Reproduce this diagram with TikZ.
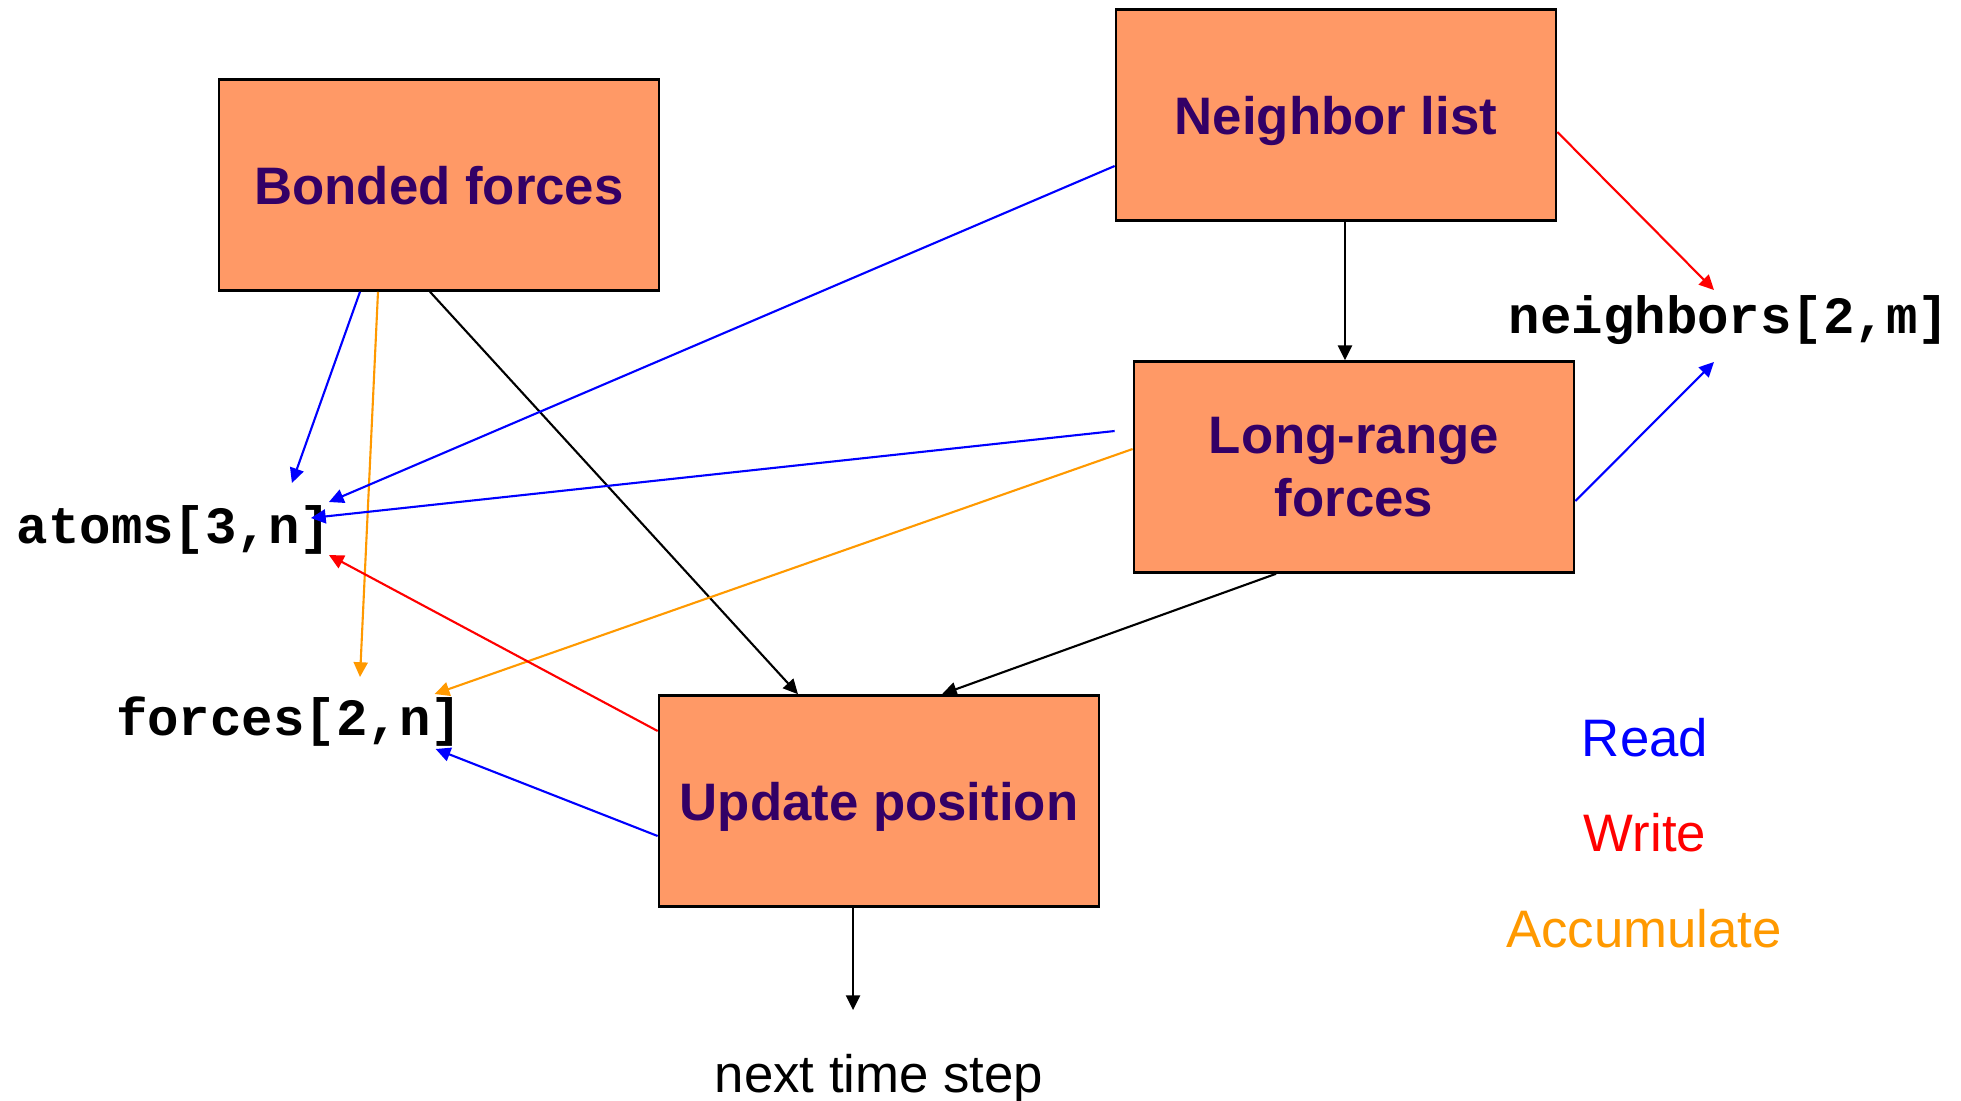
\documentclass[tikz,border=0pt]{standalone}
\usepackage{fontspec}
\setmainfont{Liberation Sans}
\newfontfamily\codefont{Liberation Mono}
\usetikzlibrary{arrows.meta}
\definecolor{boxfill}{HTML}{FF9966}
\definecolor{boxtext}{HTML}{330066}
\definecolor{accum}{HTML}{FF9900}

\begin{document}
\begin{tikzpicture}[x=0.01cm, y=-0.01cm,
  task/.style={rectangle, draw, fill=boxfill, line width=0.7pt, minimum width=4.4cm, minimum height=2.11cm,
    inner sep=0pt, text=boxtext, align=center, font=\fontsize{15}{18}\selectfont\bfseries},
  oneline/.style={task, text height=11pt, text depth=0pt},
  datum/.style={inner sep=0pt, font={\fontsize{14.9}{17}\codefont\bfseries}},
  legend/.style={inner sep=0pt, font=\fontsize{15}{18}\selectfont},
  link/.style={-{Triangle[length=4.2pt,width=4pt]}, line width=0.6pt},
  rd/.style={link, blue},
  wr/.style={link, red},
  acc/.style={link, accum}]
  \useasboundingbox (0,0) rectangle (1961,1100);

  % tasks
  \node[oneline] (bonded) at (439,185) {Bonded forces};
  \node[oneline] (nbr) at (1336,115) {Neighbor list};
  \node[task] (longr) at (1354,467) {Long-range\\forces};
  \node[oneline] (update) at (879,801) {Update position};

  % arrays
  \node[datum] (atoms) at (174,530) {atoms[3,n]};
  \node[datum] (forces) at (289,722) {forces[2,n]};
  \node[datum] (neighbors) at (1729,320) {neighbors[2,m]};
  \node[legend, anchor=base] (next) at (879,1092) {next time step};

  % legend
  \node[legend, text=blue] (read) at (1645,738) {Read};
  \node[legend, text=red] (write) at (1645,833) {Write};
  \node[legend, text=accum] (accumulate) at (1644,929) {Accumulate};

  % bonded forces
  \draw[rd] ([shift={(-79,0)}]bonded.south) -- ([shift={(-40,-47)}]atoms.east);
  \draw[acc] ([shift={(-61,0)}]bonded.south) -- ([shift={(71,-45)}]forces.center);
  \draw[link] ([shift={(-9,0)}]bonded.south) -- ([shift={(-81,0)}]update.north);

  % neighbor list
  \draw[rd] ([shift={(0,51)}]nbr.west) -- ([shift={(-3,-28)}]atoms.east);
  \draw[link] ([shift={(9,0)}]nbr.south) -- ([shift={(-9,0)}]longr.north);
  \draw[wr] ([shift={(0,17)}]nbr.east) -- ([shift={(-15,-30)}]neighbors.center);

  % long-range forces
  \draw[rd] ([shift={(-18,-36)}]longr.west) -- ([shift={(-21,-12)}]atoms.east);
  \draw[acc] ([shift={(0,-18)}]longr.west) -- ([shift={(-28,-28)}]forces.east);
  \draw[rd] ([shift={(0,34)}]longr.east) -- ([shift={(-15,42)}]neighbors.center);
  \draw[link] ([shift={(-78,0)}]longr.south) -- ([shift={(63,0)}]update.north);

  % update position
  \draw[wr] ([shift={(0,-70)}]update.west) -- ([shift={(-3,25)}]atoms.east);
  \draw[rd] ([shift={(0,35)}]update.west) -- ([shift={(-27,27)}]forces.east);
  \draw[link] ([shift={(-26,0)}]update.south) -- ([shift={(-26,-43)}]next.north);
\end{tikzpicture}
\end{document}
